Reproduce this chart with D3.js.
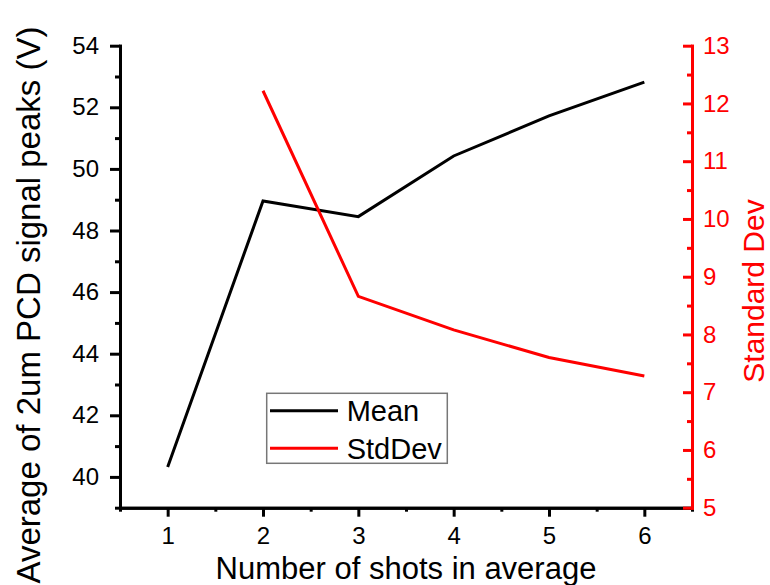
<!DOCTYPE html>
<html>
<head>
<meta charset="utf-8">
<script src="https://cdn.jsdelivr.net/npm/d3@7"></script>
<style>
  html, body { margin: 0; padding: 0; background: #fff; }
  svg { display: block; }
  text { font-family: "Liberation Sans", Arial, sans-serif; }
</style>
</head>
<body>
<svg id="chart" width="770" height="585"></svg>
<script>
// Number of shots included in each average
const shots = [1, 2, 3, 4, 5, 6];
// Mean of the 2um PCD signal peaks (V)
const meanValues = [40.32, 48.96, 48.45, 50.42, 51.72, 52.82];
// Standard deviation is only defined from two shots onward
const stdShots = [2, 3, 4, 5, 6];
const stdValues = [12.22, 8.66, 8.08, 7.60, 7.28];

const xMajorTicks = [1, 2, 3, 4, 5, 6];
const xMinorTicks = [0.5, 1.5, 2.5, 3.5, 4.5, 5.5, 6.5];
const yLeftMajorTicks = [40, 42, 44, 46, 48, 50, 52, 54];
const yLeftMinorTicks = [39, 41, 43, 45, 47, 49, 51, 53];
const yRightMajorTicks = [5, 6, 7, 8, 9, 10, 11, 12, 13];
const yRightMinorTicks = [5.5, 6.5, 7.5, 8.5, 9.5, 10.5, 11.5, 12.5];

const legendLabels = ["Mean", "StdDev"];
const legendColors = ["#000000", "#ff0000"];

const svg = d3.select("#chart");
const plot = { left: 120, right: 692, top: 45.7, bottom: 507.7 };

const x = d3.scaleLinear().domain([0.5, 6.5]).range([plot.left, plot.right]);
const yL = d3.scaleLinear().domain([39, 54]).range([plot.bottom, plot.top]);
const yR = d3.scaleLinear().domain([5, 13]).range([plot.bottom, plot.top]);

const tickFont = 24;

function styleAxis(g, color) {
  g.selectAll(".domain").attr("stroke", color).attr("stroke-width", 3).attr("stroke-linecap", "square");
  g.selectAll(".tick line").attr("stroke", color).attr("stroke-width", 3);
  g.selectAll(".tick text").attr("fill", color).style("font-size", tickFont + "px")
    .style("font-family", '"Liberation Sans", Arial, sans-serif');
}

// Data lines
const meanLine = d3.line().x((d, i) => x(shots[i])).y(d => yL(d));
const stdLine = d3.line().x((d, i) => x(stdShots[i])).y(d => yR(d));

svg.append("path").datum(meanValues)
  .attr("d", meanLine).attr("fill", "none")
  .attr("stroke", "#000").attr("stroke-width", 3).attr("stroke-linejoin", "miter");

svg.append("path").datum(stdValues)
  .attr("d", stdLine).attr("fill", "none")
  .attr("stroke", "#ff0000").attr("stroke-width", 3).attr("stroke-linejoin", "miter");

// Bottom axis: minor then major ticks
const gxMinor = svg.append("g").attr("transform", `translate(0,${plot.bottom})`)
  .call(d3.axisBottom(x).tickValues(xMinorTicks).tickSize(4).tickSizeOuter(0).tickFormat(""));
styleAxis(gxMinor, "#000");
const gx = svg.append("g").attr("transform", `translate(0,${plot.bottom})`)
  .call(d3.axisBottom(x).tickValues(xMajorTicks).tickSize(9).tickSizeOuter(0).tickPadding(10).tickFormat(d3.format("d")));
styleAxis(gx, "#000");

// Left axis
const gyMinor = svg.append("g").attr("transform", `translate(${plot.left},0)`)
  .call(d3.axisLeft(yL).tickValues(yLeftMinorTicks).tickSize(5).tickSizeOuter(0).tickFormat(""));
styleAxis(gyMinor, "#000");
const gy = svg.append("g").attr("transform", `translate(${plot.left},0)`)
  .call(d3.axisLeft(yL).tickValues(yLeftMajorTicks).tickSize(10).tickSizeOuter(0).tickPadding(11).tickFormat(d3.format("d")));
styleAxis(gy, "#000");

// Right axis (ticks point inward)
const gyrMinor = svg.append("g").attr("transform", `translate(${plot.right},0)`)
  .call(d3.axisRight(yR).tickValues(yRightMinorTicks).tickSize(-5).tickSizeOuter(0).tickFormat(""));
styleAxis(gyrMinor, "#ff0000");
const gyr = svg.append("g").attr("transform", `translate(${plot.right},0)`)
  .call(d3.axisRight(yR).tickValues(yRightMajorTicks).tickSize(-9).tickSizeOuter(0).tickPadding(11).tickFormat(d3.format("d")));
styleAxis(gyr, "#ff0000");

// Axis titles
svg.append("text")
  .attr("x", (plot.left + plot.right) / 2).attr("y", 579)
  .attr("text-anchor", "middle").style("font-size", "31px").attr("fill", "#000")
  .text("Number of shots in average");

svg.append("text")
  .attr("transform", "translate(40,305) rotate(-90)")
  .attr("text-anchor", "middle").style("font-size", "33px").attr("fill", "#000")
  .text("Average of 2um PCD signal peaks (V)");

svg.append("text")
  .attr("transform", "translate(764,291) rotate(-90)")
  .attr("text-anchor", "middle").style("font-size", "30px").attr("fill", "#ff0000")
  .text("Standard Dev");

// Legend
const legend = svg.append("g");
legend.append("rect")
  .attr("x", 266.7).attr("y", 393.3).attr("width", 180.6).attr("height", 70)
  .attr("fill", "#fff").attr("stroke", "#777").attr("stroke-width", 1.5);
const rowY = [410.7, 448.3];
legendLabels.forEach((lab, i) => {
  legend.append("line")
    .attr("x1", 270).attr("x2", 338).attr("y1", rowY[i]).attr("y2", rowY[i])
    .attr("stroke", legendColors[i]).attr("stroke-width", 3);
  legend.append("text")
    .attr("x", 346.7).attr("y", rowY[i]).attr("dy", "0.36em")
    .style("font-size", "29px").attr("fill", "#000")
    .text(lab);
});
</script>
</body>
</html>
